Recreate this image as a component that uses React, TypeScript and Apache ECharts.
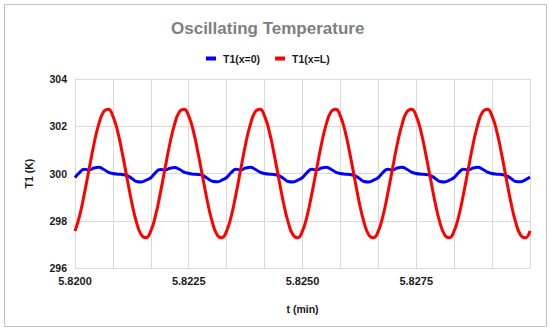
import React, { useEffect, useRef } from "react";
import * as echarts from "echarts";

const titleText = "Oscillating Temperature";
const seriesNames = ["T1(x=0)", "T1(x=L)"];
const xTicks = [5.82, 5.8225, 5.825, 5.8275];

// time samples (min)
const times = [
  5.820000, 5.820104, 5.820208, 5.820313, 5.820417, 5.820521, 5.820625, 5.820729,
  5.820833, 5.820938, 5.821042, 5.821146, 5.821250, 5.821354, 5.821458, 5.821563,
  5.821667, 5.821771, 5.821875, 5.821979, 5.822083, 5.822188, 5.822292, 5.822396,
  5.822500, 5.822604, 5.822708, 5.822813, 5.822917, 5.823021, 5.823125, 5.823229,
  5.823333, 5.823438, 5.823542, 5.823646, 5.823750, 5.823854, 5.823958, 5.824063,
  5.824167, 5.824271, 5.824375, 5.824479, 5.824583, 5.824688, 5.824792, 5.824896,
  5.825000, 5.825104, 5.825208, 5.825313, 5.825417, 5.825521, 5.825625, 5.825729,
  5.825833, 5.825938, 5.826042, 5.826146, 5.826250, 5.826354, 5.826458, 5.826563,
  5.826667, 5.826771, 5.826875, 5.826979, 5.827083, 5.827188, 5.827292, 5.827396,
  5.827500, 5.827604, 5.827708, 5.827813, 5.827917, 5.828021, 5.828125, 5.828229,
  5.828333, 5.828438, 5.828542, 5.828646, 5.828750, 5.828854, 5.828958, 5.829063,
  5.829167, 5.829271, 5.829375, 5.829479, 5.829583, 5.829688, 5.829792, 5.829896,
  5.830000,
];

// T1 at x=0 (K)
const t1x0 = [
  299.83, 300.05, 300.18, 300.15, 300.23, 300.26, 300.18, 300.06,
  300.00, 299.97, 299.96, 299.91, 299.79, 299.66, 299.64, 299.72,
  299.82, 300.04, 300.17, 300.15, 300.22, 300.25, 300.18, 300.06,
  300.01, 299.97, 299.96, 299.91, 299.79, 299.67, 299.65, 299.72,
  299.83, 300.05, 300.18, 300.15, 300.23, 300.26, 300.18, 300.06,
  300.00, 299.97, 299.96, 299.91, 299.79, 299.66, 299.64, 299.72,
  299.83, 300.05, 300.18, 300.15, 300.23, 300.26, 300.18, 300.06,
  300.00, 299.97, 299.96, 299.91, 299.79, 299.66, 299.64, 299.72,
  299.83, 300.05, 300.18, 300.15, 300.23, 300.26, 300.18, 300.06,
  300.00, 299.97, 299.96, 299.91, 299.79, 299.66, 299.64, 299.72,
  299.83, 300.05, 300.18, 300.15, 300.23, 300.26, 300.18, 300.06,
  300.00, 299.97, 299.96, 299.91, 299.79, 299.66, 299.65, 299.73,
  299.85,
];

// T1 at x=L (K)
const t1xL = [
  297.57, 298.23, 299.17, 300.22, 301.25, 302.08, 302.60, 302.72,
  302.43, 301.77, 300.83, 299.78, 298.75, 297.92, 297.40, 297.28,
  297.57, 298.23, 299.17, 300.22, 301.25, 302.08, 302.60, 302.72,
  302.43, 301.77, 300.83, 299.78, 298.75, 297.92, 297.40, 297.28,
  297.57, 298.23, 299.17, 300.22, 301.25, 302.08, 302.60, 302.72,
  302.43, 301.77, 300.83, 299.78, 298.75, 297.92, 297.40, 297.28,
  297.57, 298.23, 299.17, 300.22, 301.25, 302.08, 302.60, 302.72,
  302.43, 301.77, 300.83, 299.78, 298.75, 297.92, 297.40, 297.28,
  297.57, 298.23, 299.17, 300.22, 301.25, 302.08, 302.60, 302.72,
  302.43, 301.77, 300.83, 299.78, 298.75, 297.92, 297.40, 297.28,
  297.57, 298.23, 299.17, 300.22, 301.25, 302.08, 302.60, 302.72,
  302.43, 301.77, 300.83, 299.78, 298.75, 297.92, 297.40, 297.28,
  297.57,
];

const FONT = "'Liberation Sans', Arial, sans-serif";

export default function App() {
  const ref = useRef<HTMLDivElement>(null);

  useEffect(() => {
    document.body.style.margin = "0";
    if (!ref.current) return;
    const chart = echarts.init(ref.current, undefined, { renderer: "svg" });
    const gridColor = "#d9d9d9";
    chart.setOption({
      animation: false,
      backgroundColor: "#ffffff",
      graphic: [
        {
          type: "rect",
          shape: { x: 4.5, y: 4.5, width: 542, height: 322 },
          style: { fill: "none", stroke: "#bfbfbf", lineWidth: 1 },
          silent: true,
        },
      ],
      title: {
        text: titleText,
        left: 166,
        top: 15,
        textStyle: {
          fontFamily: FONT,
          fontSize: 17,
          fontWeight: "bold",
          color: "#7f7f7f",
        },
      },
      legend: {
        left: 201,
        top: 48,
        icon: "rect",
        itemWidth: 10,
        itemHeight: 4,
        itemGap: 15,
        data: seriesNames,
        textStyle: {
          fontFamily: FONT,
          fontSize: 10.5,
          fontWeight: "bold",
          color: "#1a1a1a",
          padding: [0, 0, 0, 2],
        },
      },
      grid: { left: 75, right: 20, top: 79, bottom: 63, containLabel: false },
      xAxis: {
        type: "value",
        min: 5.82,
        max: 5.83,
        interval: 0.0025,
        name: "t (min)",
        nameLocation: "middle",
        nameGap: 35,
        nameTextStyle: {
          fontFamily: FONT,
          fontSize: 10.5,
          fontWeight: "bold",
          color: "#1a1a1a",
        },
        axisLine: { show: true, lineStyle: { color: gridColor } },
        axisTick: { show: false },
        minorTick: { show: false, splitNumber: 3 },
        minorSplitLine: { show: true, lineStyle: { color: gridColor } },
        splitLine: { show: true, lineStyle: { color: gridColor } },
        axisLabel: {
          margin: 7,
          fontFamily: FONT,
          fontSize: 11,
          fontWeight: "bold",
          color: "#1a1a1a",
          showMaxLabel: false,
          formatter: (v: number) => {
            const hit = xTicks.find((t) => Math.abs(t - v) < 1e-7);
            return hit !== undefined ? hit.toFixed(4) : "";
          },
        },
      },
      yAxis: {
        type: "value",
        min: 296,
        max: 304,
        interval: 2,
        name: "T1 (K)",
        nameLocation: "middle",
        nameGap: 41,
        nameTextStyle: {
          fontFamily: FONT,
          fontSize: 10.5,
          fontWeight: "bold",
          color: "#1a1a1a",
        },
        axisLine: { show: true, lineStyle: { color: gridColor } },
        axisTick: { show: false },
        splitLine: { show: true, lineStyle: { color: gridColor } },
        axisLabel: {
          margin: 8,
          fontFamily: FONT,
          fontSize: 10.5,
          fontWeight: "bold",
          color: "#1a1a1a",
        },
      },
      series: [
        {
          name: seriesNames[0],
          type: "line",
          data: times.map((t, i) => [t, t1x0[i]]),
          smooth: true,
          showSymbol: false,
          lineStyle: { color: "#0000ff", width: 3 },
          itemStyle: { color: "#0000ff" },
        },
        {
          name: seriesNames[1],
          type: "line",
          data: times.map((t, i) => [t, t1xL[i]]),
          smooth: true,
          showSymbol: false,
          lineStyle: { color: "#ff0000", width: 3 },
          itemStyle: { color: "#ff0000" },
        },
      ],
    });
    return () => chart.dispose();
  }, []);

  return <div ref={ref} style={{ width: 550, height: 331 }} />;
}
